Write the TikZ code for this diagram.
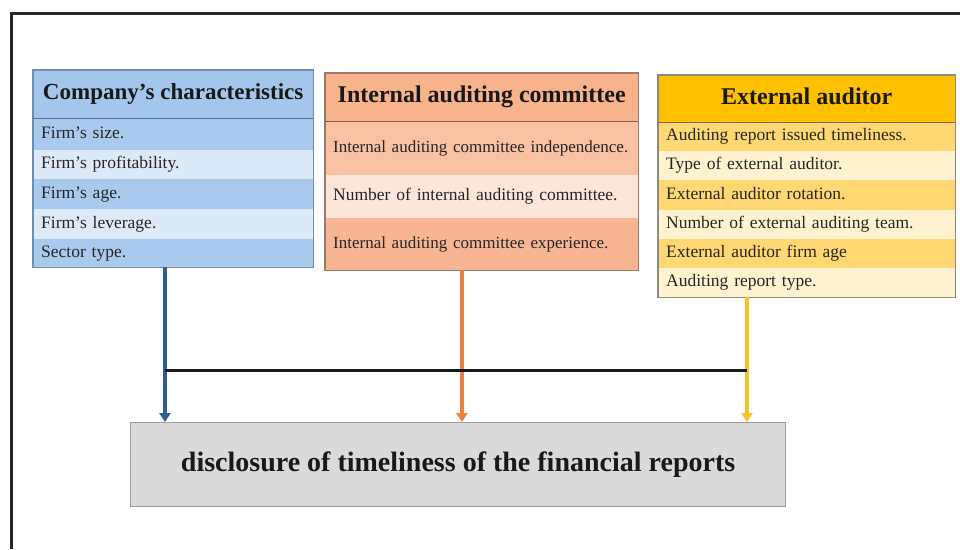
\documentclass[tikz,border=0pt]{standalone}
\usepackage{fontspec}
\setmainfont{Liberation Serif}
\usetikzlibrary{arrows.meta}
\definecolor{bhead}{HTML}{A4C6EC}
\definecolor{bdark}{HTML}{A9CAEC}
\definecolor{blight}{HTML}{DCEAF7}
\definecolor{bline}{HTML}{6E8DB0}
\definecolor{ohead}{HTML}{F6B38C}
\definecolor{odark}{HTML}{F8C2A2}
\definecolor{olight}{HTML}{FCE6DA}
\definecolor{odark2}{HTML}{F7B594}
\definecolor{oline}{HTML}{9C7A6A}
\definecolor{yhead}{HTML}{FFC000}
\definecolor{ydark}{HTML}{FFD873}
\definecolor{ylight}{HTML}{FFF2D0}
\definecolor{yline}{HTML}{8E8A80}
\definecolor{abl}{HTML}{2C5E8E}
\definecolor{aor}{HTML}{EE7E3A}
\definecolor{aye}{HTML}{F7C22A}
\definecolor{gbox}{HTML}{DADADA}
\definecolor{gline}{HTML}{9A9A9A}
\tikzset{
  cell/.style={anchor=north west, inner xsep=8pt, inner ysep=0pt, align=left, text height=12pt, text depth=4pt, font=\fontsize{17.5}{19}\selectfont, text=black!85},
  headcell/.style={anchor=north west, inner sep=0pt, align=center, text height=16pt, text depth=5pt, font=\fontsize{24}{26}\selectfont\bfseries, text=black!90},
  arr/.style={line width=3.2pt, -{Triangle[width=11pt,length=9pt]}},
}
\begin{document}
\begin{tikzpicture}[x=1pt,y=-1pt]
\useasboundingbox (0,0) rectangle (960,549);
\fill[white] (0,0) rectangle (960,549);
\draw[line width=3pt,black!85] (11,549) -- (11,13) -- (960,13);

% Box 1 : Company's characteristics
\node[headcell, fill=bhead, minimum width=280pt, minimum height=48pt, font=\fontsize{23}{25}\selectfont\bfseries] (h1) at (33,70) {Company’s characteristics};
\node[cell, fill=bdark, text width=264pt, minimum height=32pt] (b1r1) at (33,118) {Firm’s size.};
\node[cell, fill=blight, text width=264pt, minimum height=29pt] (b1r2) at (33,150) {Firm’s profitability.};
\node[cell, fill=bdark, text width=264pt, minimum height=30pt] (b1r3) at (33,179) {Firm’s age.};
\node[cell, fill=blight, text width=264pt, minimum height=30pt] (b1r4) at (33,209) {Firm’s leverage.};
\node[cell, fill=bdark, text width=264pt, minimum height=28pt] (b1r5) at (33,239) {Sector type.};
\draw[bline, line width=1.2pt] (h1.north west) rectangle (b1r5.south east);
\draw[bline!80!black, line width=1.4pt] (h1.south west) -- (h1.south east);

% Box 2 : Internal auditing committee
\node[headcell, fill=ohead, minimum width=313pt, minimum height=48pt] (h2) at (325,73) {Internal auditing committee};
\node[cell, fill=odark, text width=297pt, minimum height=54pt, font=\fontsize{17}{19}\selectfont] (b2r1) at (325,121) {Internal auditing committee independence.};
\node[cell, fill=olight, text width=297pt, minimum height=43pt, font=\fontsize{17.5}{19}\selectfont] (b2r2) at (325,175) {Number of internal auditing committee.};
\node[cell, fill=odark2, text width=297pt, minimum height=52pt, font=\fontsize{17}{19}\selectfont] (b2r3) at (325,218) {Internal auditing committee experience.};
\draw[oline, line width=1.2pt] (h2.north west) rectangle (b2r3.south east);
\draw[oline!80!black, line width=1.4pt] (h2.south west) -- (h2.south east);

% Box 3 : External auditor
\node[headcell, fill=yhead, minimum width=297pt, minimum height=47pt] (h3) at (658,75) {External auditor};
\node[cell, fill=ydark, text width=281pt, minimum height=29pt] (b3r1) at (658,122) {Auditing report issued timeliness.};
\node[cell, fill=ylight, text width=281pt, minimum height=29pt] (b3r2) at (658,151) {Type of external auditor.};
\node[cell, fill=ydark, text width=281pt, minimum height=30pt] (b3r3) at (658,180) {External auditor rotation.};
\node[cell, fill=ylight, text width=281pt, minimum height=29pt] (b3r4) at (658,210) {Number of external auditing team.};
\node[cell, fill=ydark, text width=281pt, minimum height=29pt] (b3r5) at (658,239) {External auditor firm age};
\node[cell, fill=ylight, text width=281pt, minimum height=29pt] (b3r6) at (658,268) {Auditing report type.};
\draw[yline, line width=1.2pt] (h3.north west) rectangle (b3r6.south east);
\draw[yline!80!black, line width=1.4pt] (h3.south west) -- (h3.south east);

% Bottom box
\node[anchor=north west, fill=gbox, draw=gline, line width=1.2pt, minimum width=655pt, minimum height=84pt, inner sep=0pt, font=\fontsize{28}{30}\selectfont\bfseries, text=black!90] (out) at (130,422) {disclosure of timeliness of the financial reports};

% connectors
\coordinate (xa) at (165,0);
\coordinate (xb) at (462,0);
\coordinate (xc) at (747,0);
\coordinate (hl) at (0,370);
\draw[arr, abl] (b1r5.south -| xa) -- (out.north -| xa);
\draw[arr, aor] (b2r3.south -| xb) -- (out.north -| xb);
\draw[arr, aye] (b3r6.south -| xc) -- (out.north -| xc);
\draw[line width=3pt, black!90] (xa |- hl) -- (xc |- hl);
\end{tikzpicture}
\end{document}
